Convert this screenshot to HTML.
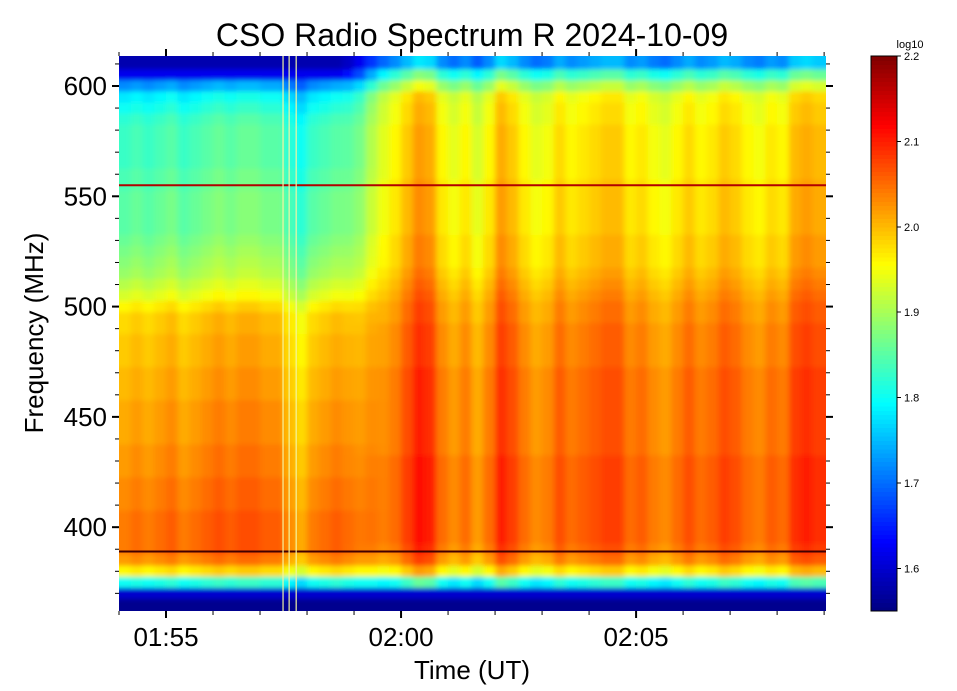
<!DOCTYPE html>
<html><head><meta charset="utf-8"><style>
body{margin:0;background:#fff;}
svg{display:block;font-family:"Liberation Sans",sans-serif;}
</style></head><body>
<svg id="chart" width="957" height="691" viewBox="0 0 957 691">
<defs>
<filter id="soft" x="0" y="0" width="1" height="1"><feGaussianBlur stdDeviation="3 2.5" edgeMode="duplicate"/></filter>
<clipPath id="plotclip"><rect x="119" y="56" width="707" height="555"/></clipPath>
</defs>
<g clip-path="url(#plotclip)"><g id="heat" filter="url(#soft)"></g></g>
<g id="overlay"></g>
<g id="axes"></g>
<g id="cbar" shape-rendering="crispEdges"></g>
<text x="472" y="46" font-size="32" text-anchor="middle">CSO Radio Spectrum R 2024-10-09</text>
<text x="472" y="679" font-size="26" text-anchor="middle">Time (UT)</text>
<text x="43" y="333" font-size="26" text-anchor="middle" transform="rotate(-90 43 333)">Frequency (MHz)</text>
<text x="910" y="48" font-size="11" text-anchor="middle">log10</text>
</svg>
<script>
// ---- data ----
const freqRows = [610,605,600,595,590,585,580,575,570,565,560,555,550,545,540,535,530,525,520,515,510,505,500,495,490,485,480,475,470,465,460,455,450,445,440,435,430,425,420,415,410,405,400,395,390,385,380,375,370,365];
const freqEarly = [1.58,1.62,1.72,1.78,1.80,1.82,1.83,1.83,1.83,1.83,1.84,1.84,1.85,1.85,1.85,1.85,1.86,1.87,1.88,1.89,1.91,1.93,1.96,1.98,1.98,1.99,1.99,1.99,2.00,2.00,2.00,2.01,2.01,2.01,2.01,2.02,2.02,2.02,2.03,2.03,2.03,2.04,2.04,2.04,2.04,2.02,1.96,1.80,1.60,1.56];
const freqLate = [1.72,1.82,1.89,1.94,1.95,1.95,1.96,1.96,1.96,1.96,1.96,1.97,1.97,1.97,1.97,1.97,1.98,1.98,1.98,1.99,2.00,2.01,2.02,2.02,2.03,2.03,2.03,2.03,2.04,2.04,2.04,2.04,2.04,2.04,2.04,2.04,2.05,2.05,2.05,2.05,2.05,2.05,2.05,2.05,2.04,2.02,1.96,1.80,1.60,1.56];
const timeMinutes = []; // 15 s columns starting 01:54:00 (minutes since 01:54)
for (let j = 0; j < 60; j++) timeMinutes.push(j * 0.25);
const regime = [0,0,0,0,0,0,0,0,0,0,0,0,0,0,0,0,0,0,0,0.1,0.3,0.6,0.9,1,1,1,1,1,1,1,1,1,1,1,1,1,1,1,1,1,1,1,1,1,1,1,1,1,1,1,1,1,1,1,1,1,1,1,1,1];
const timeBoost = [0,0.01,0,0.01,0.02,0,0.01,0.02,0.03,0.02,0.03,0.03,0.02,0.02,-0.01,-0.03,0,0.01,0.02,0.01,
  0,0,-0.01,0,0.03,0.06,0.05,0,-0.02,0,-0.03,0,0.05,0.03,0,-0.02,-0.01,0.02,0,0.01,
  0.02,0.03,0.03,0,0.01,-0.01,-0.02,0,0.02,0,0.01,0.03,0.02,0,-0.01,0.01,0,0.04,0.05,0.04];
const hLineFreqs = [555, 389];
const hLineColors = ["#b00000", "#400000"];
const vLineMinutes = [3.49, 3.62, 3.77];
const yTicks = [400,450,500,550,600];
const xTickMinutes = [1, 6, 11];
const xTickLabels = ["01:55","02:00","02:05"];
const cbTicks = [1.6,1.7,1.8,1.9,2.0,2.1,2.2];

// ---- scales ----
const X0=119, X1=826, Y0=56, Y1=611, TMAX=15.04, FMIN=362, FMAX=613.6;
const xs = m => X0 + (m / TMAX) * (X1 - X0);
const ys = f => Y1 - (f - FMIN) / (FMAX - FMIN) * (Y1 - Y0);
const VMIN=1.55, VMAX=2.2;
function jet(v){
  let t=(v-VMIN)/(VMAX-VMIN); t=Math.max(0,Math.min(1,t));
  const c=x=>Math.round(255*Math.max(0,Math.min(1,x)));
  return `rgb(${c(1.5-Math.abs(4*t-3))},${c(1.5-Math.abs(4*t-2))},${c(1.5-Math.abs(4*t-1))})`;
}
const NS="http://www.w3.org/2000/svg";
function mk(tag, attrs, parent){const e=document.createElementNS(NS,tag);for(const k in attrs)e.setAttribute(k,attrs[k]);parent.appendChild(e);return e;}

// heatmap
const heat=document.getElementById('heat');
for (let j=0;j<timeMinutes.length;j++){
  const xa=xs(timeMinutes[j]), xb=xs(Math.min(TMAX,timeMinutes[j]+0.25));
  for (let i=0;i<freqRows.length;i++){
    const w=regime[j];
    const base = freqEarly[i]*(1-w) + freqLate[i]*w;
    const v = base + (base > 1.7 ? timeBoost[j] : 0);
    const fa=Math.min(FMAX,freqRows[i]+2.5), fb=Math.max(FMIN,freqRows[i]-2.5);
    const ya = i===0 ? Y0-10 : ys(fa);
    const yb = i===freqRows.length-1 ? Y1+10 : ys(fb);
    const xa2 = j===0 ? X0-10 : xa;
    const xb2 = j===timeMinutes.length-1 ? X1+10 : xb;
    const r=mk('rect',{x:xa2,y:ya,width:xb2-xa2+0.6,height:yb-ya+0.6,fill:jet(v)},heat);
    
    
  }
}
// overlays
const ov=document.getElementById('overlay');
hLineFreqs.forEach((f,k)=>{
  const l=mk('line',{x1:X0,x2:X1,y1:ys(f),y2:ys(f),stroke:hLineColors[k],'stroke-width':2},ov);
  
  
});
vLineMinutes.forEach(m=>{
  const l=mk('line',{x1:xs(m),x2:xs(m),y1:Y0,y2:Y1,stroke:'#f4f4a0','stroke-width':1.5,opacity:0.8},ov);
  
  
});
// axes
const ax=document.getElementById('axes');
yTicks.forEach(f=>{
  const y=ys(f);
  mk('line',{x1:X0-7,x2:X0,y1:y,y2:y,stroke:'#000','stroke-width':2},ax);
  mk('line',{x1:X1,x2:X1+7,y1:y,y2:y,stroke:'#000','stroke-width':2},ax);
  const t=mk('text',{x:X0-12,y:y+9,'font-size':26,'text-anchor':'end'},ax);
  t.textContent=f;
  
  
});
for(let f=370;f<=610;f+=10){ if(f%50===0) continue; const y=ys(f);
  mk('line',{x1:X0-4,x2:X0,y1:y,y2:y,stroke:'#000','stroke-width':1},ax);
  mk('line',{x1:X1,x2:X1+4,y1:y,y2:y,stroke:'#000','stroke-width':1},ax);}
xTickMinutes.forEach((m,k)=>{
  const x=xs(m);
  mk('line',{x1:x,x2:x,y1:Y1,y2:Y1+7,stroke:'#000','stroke-width':2},ax);
  mk('line',{x1:x,x2:x,y1:Y0-7,y2:Y0,stroke:'#000','stroke-width':2},ax);
  const t=mk('text',{x:x,y:Y1+35,'font-size':26,'text-anchor':'middle'},ax);
  t.textContent=xTickLabels[k];
  
  
});
for(let m=0;m<=15;m+=1){ if((m-1)%5===0) continue; const x=xs(m);
  mk('line',{x1:x,x2:x,y1:Y1,y2:Y1+4,stroke:'#000','stroke-width':1},ax);
  mk('line',{x1:x,x2:x,y1:Y0-4,y2:Y0,stroke:'#000','stroke-width':1},ax);}
// colorbar
const cb=document.getElementById('cbar');
const CX=871,CW=26;
const cy=v=>Y1-(v-VMIN)/(VMAX-VMIN)*(Y1-Y0);
for(let k=0;k<130;k++){const v0=VMIN+k*(VMAX-VMIN)/130, v1=VMIN+(k+1)*(VMAX-VMIN)/130;
  mk('rect',{x:CX,y:cy(v1),width:CW,height:cy(v0)-cy(v1)+0.6,fill:jet((v0+v1)/2)},cb);}
mk('rect',{x:CX,y:Y0,width:CW,height:Y1-Y0,fill:'none',stroke:'#000','stroke-width':1},cb);
cbTicks.forEach(v=>{const y=cy(v);
  mk('line',{x1:CX+CW,x2:CX+CW+4,y1:y,y2:y,stroke:'#000'},cb);
  const t=mk('text',{x:CX+CW+7,y:y+4,'font-size':11},cb);
  t.textContent=v.toFixed(1);
  
  
});
</script>
</body></html>
